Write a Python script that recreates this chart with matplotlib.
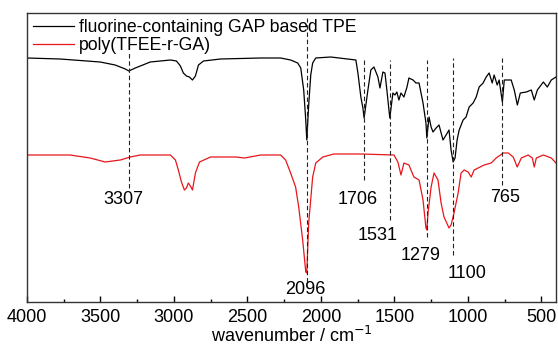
import matplotlib
matplotlib.use("Agg")
import matplotlib.pyplot as plt
from matplotlib.ticker import MultipleLocator

plt.rcParams['font.family'] = ['Liberation Sans', 'DejaVu Sans']

# ---- data ----
wn_black = [4000, 3775, 3502, 3400, 3331, 3307, 3263, 3161, 3024, 2983,
            2956, 2936, 2915, 2895, 2874, 2854, 2833, 2799, 2683, 2410,
            2274, 2206, 2158, 2137, 2117, 2103, 2096, 2083, 2069, 2056,
            2035, 1933, 1762, 1748, 1728, 1714, 1706, 1680, 1660, 1639,
            1612, 1598, 1578, 1564, 1551, 1531, 1510, 1496, 1483, 1469,
            1455, 1435, 1414, 1401, 1373, 1353, 1332, 1305, 1285, 1279,
            1264, 1250, 1237, 1216, 1196, 1169, 1148, 1128, 1114, 1100,
            1087, 1073, 1059, 1032, 1012, 991, 964, 943, 923, 896,
            875, 855, 834, 821, 800, 787, 765, 752, 705, 684,
            663, 643, 602, 568, 548, 527, 486, 459, 432, 400]
t_black = [244, 243, 240, 237, 233, 231, 234, 240, 242, 241,
           236, 229, 226, 225, 222, 226, 237, 241, 243, 244,
           244, 242, 239, 234, 212, 182, 162, 197, 227, 239,
           244, 245, 242, 229, 205, 194, 184, 212, 232, 235,
           225, 214, 230, 229, 212, 184, 209, 207, 210, 202,
           209, 205, 215, 224, 222, 219, 219, 199, 179, 164,
           185, 175, 170, 174, 177, 162, 167, 172, 152, 140,
           144, 162, 172, 182, 185, 195, 199, 205, 215, 219,
           225, 229, 219, 227, 217, 222, 200, 222, 222, 212,
           197, 209, 210, 212, 202, 212, 220, 215, 222, 225]

wn_red = [4000, 3707, 3570, 3468, 3365, 3297, 3229, 3024, 2990, 2970,
          2949, 2929, 2915, 2902, 2888, 2874, 2854, 2826, 2751, 2581,
          2519, 2410, 2274, 2240, 2206, 2172, 2151, 2124, 2103, 2096,
          2083, 2056, 2035, 1987, 1912, 1728, 1503, 1476, 1455, 1435,
          1401, 1367, 1332, 1305, 1285, 1279, 1271, 1250, 1230, 1203,
          1182, 1162, 1128, 1114, 1094, 1066, 1046, 1025, 998, 977,
          957, 930, 889, 841, 807, 759, 725, 691, 664, 636,
          589, 561, 548, 534, 486, 432, 400]
t_red = [147, 147, 144, 140, 142, 145, 147, 147, 142, 132,
         120, 112, 114, 119, 116, 112, 129, 140, 145, 145,
         144, 147, 147, 142, 129, 115, 95, 62, 30, 29,
         79, 125, 139, 145, 148, 148, 147, 140, 127, 139,
         137, 125, 122, 102, 74, 72, 89, 115, 129, 122,
         99, 85, 74, 77, 89, 109, 129, 132, 130, 125,
         132, 134, 137, 139, 144, 149, 149, 145, 135, 144,
         147, 144, 135, 144, 147, 144, 139]

peaks = [3307, 2096, 1706, 1531, 1279, 1100, 765]
peak_labels = ['3307', '2096', '1706', '1531', '1279', '1100', '765']
series_names = ['fluorine-containing GAP based TPE', 'poly(TFEE-r-GA)']

# ---- placement (layout only) ----
line_top = [250, 284, 242, 242, 242, 244, 244]
line_bot = [114, 20, 122, 82, 65, 47, 117]
label_xy = [(3345, 102), (2103, 12), (1749, 102), (1612, 66),
            (1319, 47), (1005, 29), (746, 104)]

fig = plt.figure(figsize=(5.58, 3.47), dpi=100)
ax = fig.add_axes([27/558, 1-302/347, (556-27)/558, (302-13)/347])

ax.plot(wn_black, t_black, color='black', lw=0.9, label=series_names[0])
ax.plot(wn_red, t_red, color='#e8161b', lw=0.9, label=series_names[1])

for p, lt, lb in zip(peaks, line_top, line_bot):
    ax.plot([p, p], [lb, lt], color='#222222', lw=0.8,
            linestyle=(0, (4, 2.5)))
for txt, (x, y) in zip(peak_labels, label_xy):
    ax.text(x, y, txt, ha='center', va='center', fontsize=13)

ax.set_xlim(4000, 400)
ax.set_ylim(0, 289)
ax.set_yticks([])
ax.xaxis.set_major_locator(MultipleLocator(500))
ax.xaxis.set_minor_locator(MultipleLocator(250))
ax.tick_params(axis='x', which='major', direction='in', length=4,
               width=1, labelsize=13, pad=5, top=False)
ax.tick_params(axis='x', which='minor', direction='in', length=2.5,
               width=1, top=False)
for s in ax.spines.values():
    s.set_linewidth(1.0)
    s.set_color('#333333')
ax.set_xlabel('wavenumber / cm$^{-1}$', fontsize=13, labelpad=0)

ax.legend(loc='upper left', frameon=False, fontsize=12.7,
          handlelength=2.3, handletextpad=0.3, labelspacing=0.05,
          borderpad=0.15, borderaxespad=0.2)

fig.savefig('out.png', dpi=100)
